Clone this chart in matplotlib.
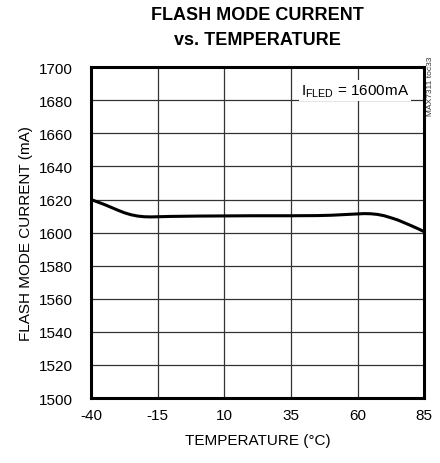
import matplotlib
matplotlib.use("Agg")
import matplotlib.pyplot as plt

plt.rcParams["font.family"] = ["Liberation Sans", "DejaVu Sans"]
plt.rcParams["mathtext.fontset"] = "custom"
plt.rcParams["mathtext.rm"] = "Liberation Sans"
plt.rcParams["axes.unicode_minus"] = False

# data
temps = [-40, -37.5, -35, -32.5, -30, -27.5, -25, -22.5, -20, -17.5, -15, -10, 0, 10,
         20, 35, 45, 50, 55, 60, 62.5, 65, 67.5, 70, 72.5, 75, 77.5, 80, 82.5, 85]
current = [1620, 1618.5, 1617, 1615.3, 1613.6, 1612, 1610.8, 1610, 1609.6, 1609.5,
           1609.6, 1609.8, 1610, 1610.1, 1610.2, 1610.2, 1610.3, 1610.5, 1610.9,
           1611.3, 1611.5, 1611.4, 1611, 1610.2, 1609, 1607.7, 1606, 1604.3, 1602.5,
           1600.6]

x_ticks = [-40, -15, 10, 35, 60, 85]
y_ticks = list(range(1500, 1701, 20))

fig = plt.figure(figsize=(4.4, 4.64), dpi=100)
ax = fig.add_axes([0.207, 0.140, 0.757, 0.713])

ax.plot(temps, current, color="black", linewidth=2.2, solid_capstyle="butt",
        solid_joinstyle="round", zorder=3)

ax.set_xlim(-40, 85)
ax.set_ylim(1500, 1700)
ax.set_xticks(x_ticks)
ax.set_yticks(y_ticks)
ax.tick_params(length=0, labelsize=11)
ax.tick_params(axis="y", pad=13)
ax.tick_params(axis="x", pad=7)
ax.grid(True, color="#333333", linewidth=0.9)
for s in ax.spines.values():
    s.set_linewidth(2.2)

ax.set_xlabel("TEMPERATURE (°C)", fontsize=11, labelpad=8)
ax.set_ylabel("FLASH MODE CURRENT (mA)", fontsize=11, labelpad=4)
ax.set_title("FLASH MODE CURRENT\nvs. TEMPERATURE", fontsize=13, fontweight="bold",
             linespacing=1.55, pad=17)

ax.text(0.955, 0.93, r"I$_{\mathrm{FLED}}$ = 1600mA", transform=ax.transAxes,
        ha="right", va="center", fontsize=11,
        bbox=dict(facecolor="white", edgecolor="none", pad=1.5), zorder=4)

fig.text(0.979, 0.877, "MAX7311 toc33", rotation=90, ha="center", va="top",
         fontsize=6, color="#333333")

plt.savefig("out.png", dpi=100)
